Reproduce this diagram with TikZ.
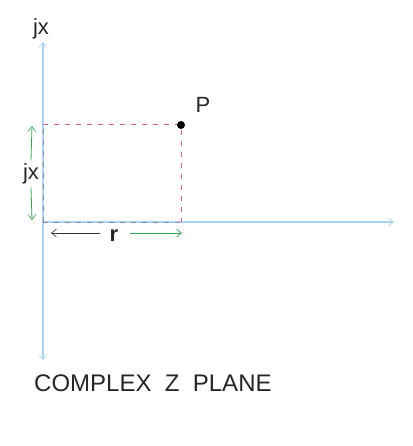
\documentclass[tikz,border=0pt]{standalone}
\usepackage{fontspec}
\setmainfont{Liberation Sans}
\usetikzlibrary{arrows.meta}
\definecolor{axisblue}{HTML}{A9D3F0}
\definecolor{myredline}{rgb}{0.88,0.38,0.48}
\definecolor{dashgray}{rgb}{0.55,0.55,0.62}
\definecolor{arrgreen}{HTML}{2FA850}
\tikzset{
  axisline/.style={draw=axisblue, line width=1.1pt, -{Straight Barb[length=5pt,width=8pt,line width=0.6pt]}},
  redguide/.style={draw=myredline, line width=1pt, dash pattern=on 5pt off 6pt},
  grayguide/.style={draw=dashgray, line width=0.9pt, dash pattern=on 5pt off 6pt},
  dimarrow/.style={line width=0.8pt, -{Straight Barb[length=5pt,width=8pt,line width=0.6pt]}},
  lbl/.style={inner sep=0pt, text=black!85, font=\fontsize{22}{24}\selectfont},
}
\begin{document}
\begin{tikzpicture}[x=1pt,y=-1pt]
\useasboundingbox (0,0) rectangle (412,446);
\coordinate (O) at (43,222);
\coordinate (top) at (43,42);
\coordinate (bot) at (43,360);
\coordinate (right) at (394,222);
\coordinate (Px) at (181,222);
\coordinate (Py) at (43,125);
\coordinate (Pc) at (181,125);
\draw[axisline] (O) -- (top);
\draw[axisline] (O) -- (bot);
\draw[axisline] (O) -- (right);
\draw[redguide] (Py) -- (Pc) -- (Px);
\draw[grayguide] (O) -- (Px);
\draw[grayguide] (O) -- (Py);
\node[circle, fill=black, inner sep=0pt, minimum size=8pt] (P) at (Pc) {};
\node[lbl] (jxtop) at (41,29) {jx};
\node[lbl] (Plbl) at (203,105) {P};
\node[lbl, fill=white, inner ysep=3pt] (jxside) at (31,174) {jx};
\coordinate (ja) at (32,126);
\coordinate (jb) at (32,220);
\draw[dimarrow, draw=arrgreen] (jxside.north) -- (ja);
\draw[dimarrow, draw=arrgreen] (jxside.south) -- (jb);
\node[lbl, font=\fontsize{22}{24}\selectfont\bfseries] (rlbl) at (114,236) {r};
\coordinate (ra) at (51,233);
\coordinate (rb) at (182,233);
\draw[dimarrow, draw=black!80] (100,233) -- (ra);
\draw[dimarrow, draw=arrgreen] (130,233) -- (rb);
\node[lbl, anchor=west, font=\fontsize{24}{28}\selectfont] (title) at (34,383) {COMPLEX\ \ Z\ \ PLANE};
\end{tikzpicture}
\end{document}
